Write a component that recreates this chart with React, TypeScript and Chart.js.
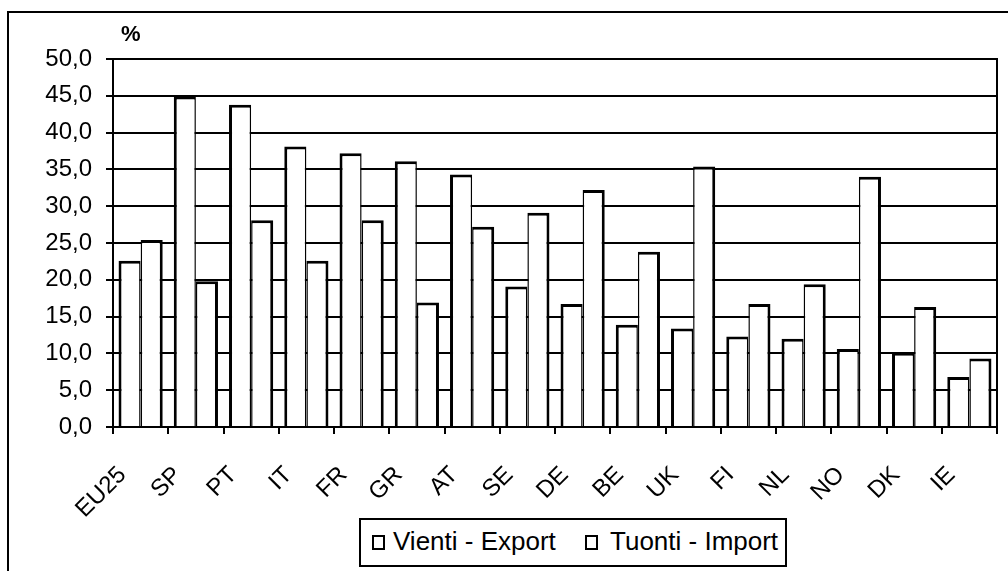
import React, { useEffect, useRef } from "react";
import { Chart, registerables } from "chart.js";

Chart.register(...registerables);

const categories = ["EU25", "SP", "PT", "IT", "FR", "GR", "AT", "SE", "DE", "BE", "UK", "FI", "NL", "NO", "DK", "IE"];
const exportValues = [22.6, 44.9, 43.8, 38.1, 37.2, 36.1, 34.3, 19.1, 16.7, 13.9, 13.4, 12.3, 12.0, 10.6, 10.1, 6.8];
const importValues = [25.4, 19.8, 28.1, 22.6, 28.1, 16.9, 27.2, 29.1, 32.2, 23.8, 35.4, 16.7, 19.4, 34.0, 16.3, 9.3];
const yTickLabels = ["0,0", "5,0", "10,0", "15,0", "20,0", "25,0", "30,0", "35,0", "40,0", "45,0", "50,0"];
const seriesNames = ["Vienti - Export", "Tuonti - Import"];

const FONT = "'Liberation Sans', Arial, sans-serif";

const plotFrame = {
  id: "plotFrame",
  afterDatasetsDraw(chart: any) {
    const { ctx, chartArea } = chart;
    ctx.save();
    ctx.strokeStyle = "#000";
    ctx.lineWidth = 2;
    ctx.beginPath();
    ctx.moveTo(chartArea.right, chartArea.top - 1);
    ctx.lineTo(chartArea.right, chartArea.bottom);
    ctx.stroke();
    ctx.restore();
  },
};

export default function App() {
  const canvasRef = useRef<HTMLCanvasElement | null>(null);

  useEffect(() => {
    if (!canvasRef.current) return;
    const chart = new Chart(canvasRef.current, {
      type: "bar",
      data: {
        labels: categories,
        datasets: [
          {
            label: seriesNames[0],
            data: exportValues,
            backgroundColor: "#fff",
            borderColor: "#000",
            borderWidth: { top: 3, left: 3, right: 1.5, bottom: 0 },
            categoryPercentage: 0.8,
            barPercentage: 1.0,
          },
          {
            label: seriesNames[1],
            data: importValues,
            backgroundColor: "#fff",
            borderColor: "#000",
            borderWidth: { top: 3, left: 1.5, right: 3, bottom: 0 },
            categoryPercentage: 0.8,
            barPercentage: 1.0,
          },
        ],
      },
      options: {
        animation: false,
        responsive: false,
        maintainAspectRatio: false,
        layout: { padding: { left: 0, right: 11, top: 59, bottom: 44 } },
        plugins: {
          legend: { display: false },
          tooltip: { enabled: false },
          title: { display: false },
        },
        scales: {
          x: {
            grid: {
              display: true,
              drawOnChartArea: false,
              drawTicks: true,
              tickLength: 7,
              color: "#000",
              lineWidth: 2,
              offset: true,
            },
            border: { display: true, color: "#000", width: 2 },
            ticks: {
              autoSkip: false,
              minRotation: 45,
              maxRotation: 45,
              color: "#000",
              padding: 27,
              labelOffset: -18,
              font: { family: FONT, size: 24 },
            },
            afterFit: (s: any) => {
              s.height = 100;
              s.paddingLeft = 0;
              s.paddingRight = 0;
            },
          },
          y: {
            min: 0,
            max: 50,
            ticks: {
              stepSize: 5,
              color: "#000",
              padding: 14,
              font: { family: FONT, size: 24 },
              callback: (_v: any, i: number) => yTickLabels[i],
            },
            grid: { color: "#000", lineWidth: 2, tickLength: 7, drawTicks: true },
            border: { display: true, color: "#000", width: 2 },
            afterFit: (s: any) => {
              s.width = 113;
            },
          },
        },
      },
      plugins: [plotFrame],
    });
    return () => chart.destroy();
  }, []);

  const textStyle: React.CSSProperties = {
    position: "absolute",
    fontFamily: FONT,
    fontSize: 26,
    lineHeight: "26px",
    color: "#000",
    whiteSpace: "nowrap",
  };
  const square: React.CSSProperties = {
    position: "absolute",
    width: 13,
    height: 15,
    border: "2px solid #000",
    boxSizing: "border-box",
    background: "#fff",
  };

  return (
    <div style={{ position: "fixed", left: 0, top: 0, width: 1008, height: 571, overflow: "hidden", background: "#fff" }}>
      <div
        style={{
          position: "absolute",
          left: 7,
          top: 11,
          width: 1200,
          height: 800,
          borderLeft: "2px solid #000",
          borderTop: "2px solid #000",
        }}
      />
      <canvas ref={canvasRef} width={1008} height={571} style={{ position: "absolute", left: 0, top: 0, width: 1008, height: 571 }} />
      <span
        style={{
          position: "absolute",
          left: 121,
          top: 23,
          fontFamily: FONT,
          fontWeight: "bold",
          fontSize: 22,
          lineHeight: "22px",
          color: "#000",
        }}
      >
        %
      </span>
      <div
        style={{
          position: "absolute",
          left: 359,
          top: 518,
          width: 428,
          height: 49,
          boxSizing: "border-box",
          border: "2px solid #000",
          background: "#fff",
        }}
      >
        <div style={{ ...square, left: 11, top: 15 }} />
        <span style={{ ...textStyle, left: 32, top: 8 }}>{seriesNames[0]}</span>
        <div style={{ ...square, left: 224, top: 15 }} />
        <span style={{ ...textStyle, left: 249, top: 8 }}>{seriesNames[1]}</span>
      </div>
    </div>
  );
}
